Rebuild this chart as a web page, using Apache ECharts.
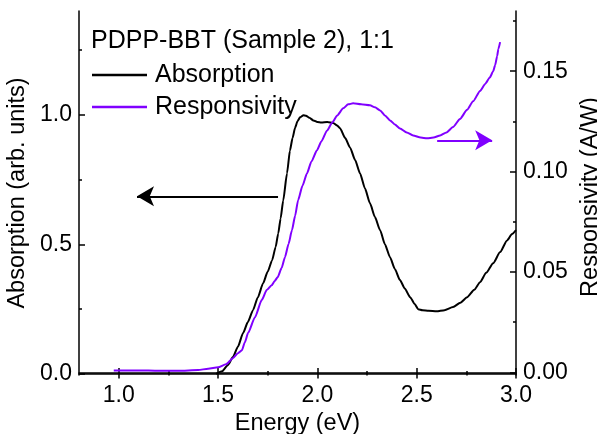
<!DOCTYPE html>
<html>
<head>
<meta charset="utf-8">
<script src="https://cdn.jsdelivr.net/npm/echarts@6/dist/echarts.min.js"></script>
<style>html,body{margin:0;padding:0;background:#fff}#c{width:597px;height:434px}</style>
</head>
<body>
<div id="c"></div>
<script>
// ---- data ----
var energyAbs = [1.49,1.52,1.55,1.575,1.60,1.626,1.65,1.676,1.70,1.727,1.75,1.772,1.79,1.803,1.815,1.828,1.847,1.862,1.875,1.888,1.90,1.913,1.93,1.943,1.96,1.98,2.0,2.02,2.05,2.08,2.10,2.114,2.14,2.165,2.19,2.215,2.24,2.265,2.29,2.316,2.34,2.366,2.39,2.416,2.44,2.467,2.49,2.507,2.53,2.56,2.60,2.64,2.683,2.72,2.754,2.79,2.819,2.85,2.885,2.92,2.955,2.98,3.0];
var absorption = [0.0,0.01,0.035,0.065,0.105,0.158,0.2,0.246,0.295,0.35,0.395,0.438,0.49,0.542,0.6,0.669,0.773,0.862,0.91,0.95,0.975,0.99,0.998,0.996,0.988,0.978,0.972,0.97,0.972,0.968,0.958,0.948,0.91,0.873,0.825,0.773,0.715,0.658,0.605,0.554,0.5,0.45,0.405,0.362,0.33,0.296,0.27,0.25,0.246,0.244,0.242,0.246,0.258,0.275,0.296,0.325,0.354,0.39,0.427,0.47,0.515,0.54,0.555];
var energyResp = [0.975,1.1,1.2,1.3,1.4,1.45,1.5,1.54,1.575,1.60,1.62,1.635,1.651,1.686,1.72,1.745,1.77,1.785,1.80,1.82,1.837,1.855,1.872,1.888,1.903,1.925,1.948,1.97,1.998,2.02,2.049,2.075,2.10,2.13,2.155,2.18,2.22,2.265,2.29,2.316,2.34,2.366,2.39,2.416,2.45,2.482,2.52,2.552,2.585,2.618,2.65,2.683,2.718,2.754,2.784,2.819,2.845,2.869,2.885,2.895,2.905,2.911,2.92];
var responsivity = [0.001,0.001,0.0008,0.0008,0.0012,0.0018,0.0025,0.004,0.0071,0.0095,0.011,0.015,0.0196,0.0275,0.036,0.041,0.0434,0.0455,0.0474,0.052,0.0574,0.064,0.0708,0.078,0.0858,0.093,0.0992,0.105,0.1106,0.115,0.1205,0.1245,0.128,0.1315,0.1335,0.134,0.1335,0.133,0.132,0.1305,0.128,0.1255,0.1235,0.1215,0.1195,0.118,0.117,0.1166,0.117,0.118,0.1195,0.1222,0.1262,0.1308,0.135,0.1402,0.1437,0.147,0.150,0.153,0.1575,0.161,0.1645];
var xMajor = [1.0,1.5,2.0,2.5,3.0];
var xMinor = [1.25,1.75,2.25,2.75];
var yLeftMajor = [0.0,0.5,1.0];
var yLeftMinor = [0.25,0.75,1.25];
var yRightMajor = [0.0,0.05,0.10,0.15];
var yRightMinor = [0.025,0.075,0.125,0.175];
var absArrow = [[1.802,0.685],[1.092,0.685]];
var respArrow = [[2.603,0.1156],[2.88,0.1156]];
var titleText = 'PDPP-BBT (Sample 2), 1:1';
var seriesNames = ['Absorption','Responsivity'];

var FONT = 'Liberation Sans, Arial, sans-serif';
var PURPLE = '#8000ff';
function zip(a,b){return a.map(function(v,i){return [v,b[i]];});}

function axisBase(extra){
  var o = {type:'value', splitLine:{show:false}, axisLine:{show:false, lineStyle:{color:'#000',width:1.5}},
    axisTick:{show:true, inside:true, length:6, lineStyle:{color:'#000',width:1.5}},
    axisLabel:{show:false}};
  for (var k in extra) o[k]=extra[k];
  return o;
}
var labelStyle = {color:'#000', fontFamily:FONT, fontSize:23};
var nameStyle = {color:'#000', fontFamily:FONT, fontSize:23.5};

var xMinV=0.8, xMaxV=3.0, lMin=-0.004, lMax=1.4, rMin=-0.0013, rMax=0.18;

var option = {
  animation:false,
  textStyle:{fontFamily:FONT},
  grid:{left:79, right:81, top:11, bottom:59, containLabel:false, outerBoundsMode:'none'},
  title:{text:titleText, left:91, top:29, padding:0, textStyle:{fontFamily:FONT, fontSize:25, fontWeight:'normal', color:'#000'}},
  legend:{orient:'vertical', left:92, top:61, padding:0, itemWidth:55, itemHeight:2.5, itemGap:4,
    data:[{name:seriesNames[0], icon:'rect'},{name:seriesNames[1], icon:'rect'}],
    textStyle:{fontFamily:FONT, fontSize:25, color:'#000', padding:[0,0,0,3], lineHeight:28}},
  xAxis:[
    axisBase({min:xMinV,max:xMaxV,position:'bottom', axisLine:{show:true,lineStyle:{color:'#000',width:1.5}},
      axisTick:{show:true,inside:true,length:6,customValues:xMajor,lineStyle:{color:'#000',width:1.5}},
      axisLabel:Object.assign({show:true,margin:9,customValues:xMajor,formatter:function(v){return v.toFixed(1);}},labelStyle),
      name:'Energy (eV)', nameLocation:'middle', nameGap:32, nameTextStyle:nameStyle}),
    axisBase({min:xMinV,max:xMaxV,position:'bottom',
      axisTick:{show:true,inside:true,length:3,customValues:xMinor,lineStyle:{color:'#000',width:1.5}}}),
    axisBase({min:xMinV,max:xMaxV,position:'top', axisLine:{show:true,lineStyle:{color:'#000',width:1.5}},
      axisTick:{show:true,inside:true,length:6,customValues:xMajor,lineStyle:{color:'#000',width:1.5}}}),
    axisBase({min:xMinV,max:xMaxV,position:'top',
      axisTick:{show:true,inside:true,length:3,customValues:xMinor,lineStyle:{color:'#000',width:1.5}}})
  ],
  yAxis:[
    axisBase({min:lMin,max:lMax,position:'left', axisLine:{show:true,lineStyle:{color:'#000',width:1.5}},
      axisTick:{show:true,inside:true,length:6,customValues:yLeftMajor,lineStyle:{color:'#000',width:1.5}},
      axisLabel:Object.assign({show:true,margin:7,customValues:yLeftMajor,formatter:function(v){return v.toFixed(1);}},labelStyle),
      name:'Absorption (arb. units)', nameLocation:'middle', nameGap:45, nameTextStyle:nameStyle}),
    axisBase({min:lMin,max:lMax,position:'left',
      axisTick:{show:true,inside:true,length:3,customValues:yLeftMinor,lineStyle:{color:'#000',width:1.5}}}),
    axisBase({min:rMin,max:rMax,position:'right', axisLine:{show:true,lineStyle:{color:'#000',width:1.5}},
      axisTick:{show:true,inside:true,length:6,customValues:yRightMajor,lineStyle:{color:'#000',width:1.5}},
      axisLabel:Object.assign({show:true,margin:7,customValues:yRightMajor,formatter:function(v){return v.toFixed(2);}},labelStyle),
      name:'Responsivity (A/W)', nameLocation:'middle', nameGap:51,
      nameTextStyle:Object.assign({padding:[0,8,0,0]},nameStyle)}),
    axisBase({min:rMin,max:rMax,position:'right',
      axisTick:{show:true,inside:true,length:3,customValues:yRightMinor,lineStyle:{color:'#000',width:1.5}}})
  ],
  series:[
    {name:seriesNames[0], type:'line', xAxisIndex:0, yAxisIndex:0, symbol:'none', smooth:0.2, smoothMonotone:'x',
      data:zip(energyAbs,absorption), lineStyle:{color:'#000',width:2}, itemStyle:{color:'#000'},
      markLine:{silent:true, symbol:['none','arrow'], symbolSize:[15,17], label:{show:false},
        lineStyle:{color:'#000',width:2,type:'solid'},
        data:[[{coord:absArrow[0]},{coord:absArrow[1]}]]}},
    {name:seriesNames[1], type:'line', xAxisIndex:0, yAxisIndex:2, symbol:'none', smooth:0.2, smoothMonotone:'x',
      data:zip(energyResp,responsivity), lineStyle:{color:PURPLE,width:2}, itemStyle:{color:PURPLE},
      markLine:{silent:true, symbol:['none','arrow'], symbolSize:[15,17], label:{show:false},
        lineStyle:{color:PURPLE,width:2,type:'solid'},
        data:[[{coord:respArrow[0]},{coord:respArrow[1]}]]}}
  ]
};
var chart = echarts.init(document.getElementById('c'), null, {renderer:'canvas'});
chart.setOption(option);
</script>
</body>
</html>
